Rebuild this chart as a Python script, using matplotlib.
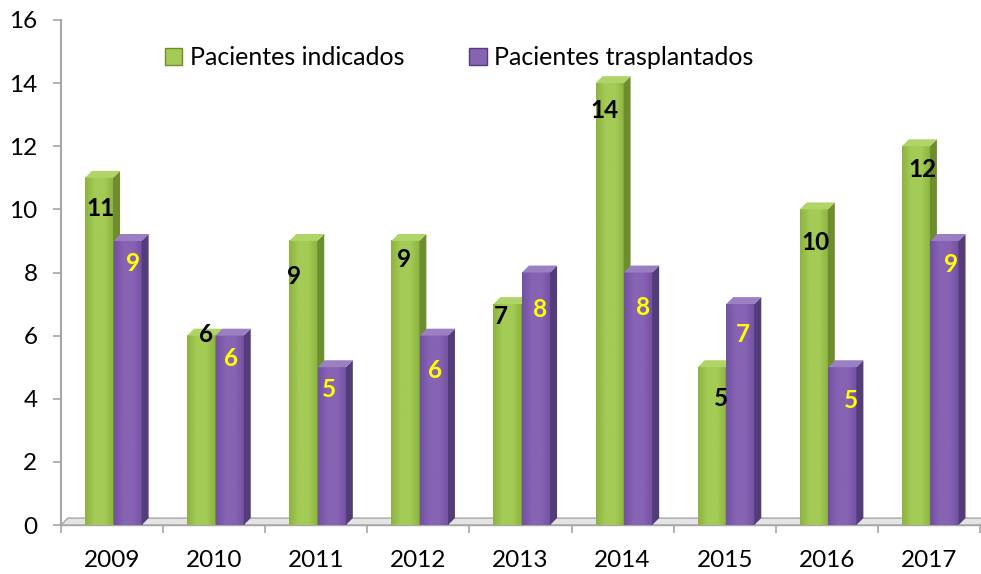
import numpy as np
import matplotlib.pyplot as plt
from matplotlib.patches import Polygon, Patch
from matplotlib.colors import LinearSegmentedColormap

plt.rcParams['font.family'] = ['Lato', 'DejaVu Sans']

# datos por año
years = ['2009', '2010', '2011', '2012', '2013', '2014', '2015', '2016', '2017']
indicados = [11, 6, 9, 9, 7, 14, 5, 10, 12]
trasplantados = [9, 6, 5, 6, 8, 8, 7, 5, 9]

# ajuste fino de la posición de cada etiqueta (desplazamiento en x, bajada en y)
ind_lbl_dx = [0.01, 0.045, -0.09, -0.01, -0.065, -0.05, 0.09, 0.02, 0.06]
ind_lbl_drop = [0.96, -0.02, 1.14, 0.6, 0.38, 0.88, 0.98, 1.06, 0.75]
tra_lbl_dx = [0.05, 0.015, -0.025, 0.013, 0.04, 0.05, 0.03, 0.08, 0.065]
tra_lbl_drop = [0.7, 0.74, 0.72, 1.12, 1.16, 1.12, 0.98, 1.07, 0.76]

# (frente claro, frente oscuro, lateral, tapa)
GREEN = ('#a3cb55', '#8db240', '#6d8d2e', '#b0d468')
PURPLE = ('#8763b4', '#7351a2', '#533d78', '#9a80c2')

W = 0.275          # ancho de la cara frontal
DX, DY = 0.068, 0.22   # profundidad del efecto 3D
FS = 17.5


def bar3d(ax, x0, h, colors):
    light, dark, side, top = colors
    cmap = LinearSegmentedColormap.from_list('g', [dark, light, light, dark])
    grad = np.linspace(0, 1, 64).reshape(1, -1)
    ax.imshow(grad, extent=[x0, x0 + W, 0, h], aspect='auto', cmap=cmap,
              zorder=3, interpolation='bilinear')
    ax.add_patch(Polygon([(x0 + W, 0), (x0 + W + DX, DY), (x0 + W + DX, h + DY), (x0 + W, h)],
                         closed=True, facecolor=side, edgecolor='none', zorder=3))
    ax.add_patch(Polygon([(x0, h), (x0 + W, h), (x0 + W + DX, h + DY), (x0 + DX, h + DY)],
                         closed=True, facecolor=top, edgecolor='none', zorder=3))


fig = plt.figure(figsize=(9.81, 5.74), dpi=100)
ax = fig.add_axes([61 / 981, 1 - 525 / 574, 919 / 981, 505 / 574])

# suelo del gráfico
floor = Polygon([(-0.5, 0), (8.5, 0), (8.5 + DX, DY), (-0.5 + DX, DY)], closed=True,
                facecolor='#e4e4e4', edgecolor='#a6a6a6', linewidth=1, zorder=2, clip_on=False)
ax.add_patch(floor)

x = np.arange(len(years))
for i in range(len(years)):
    g0 = x[i] - 0.265
    p0 = x[i] + 0.015
    bar3d(ax, g0, indicados[i], GREEN)
    bar3d(ax, p0, trasplantados[i], PURPLE)
    ax.text(g0 + W / 2 + ind_lbl_dx[i], indicados[i] - ind_lbl_drop[i], str(indicados[i]),
            ha='center', va='center', fontsize=FS, fontweight='bold', color='black', zorder=5)
    ax.text(p0 + W / 2 + tra_lbl_dx[i], trasplantados[i] - tra_lbl_drop[i], str(trasplantados[i]),
            ha='center', va='center', fontsize=FS, fontweight='bold', color='#ffff00', zorder=5)

ax.set_xlim(-0.5, 8.5)
ax.set_ylim(0, 16)

# ejes
for s in ['top', 'right']:
    ax.spines[s].set_visible(False)
ax.spines['left'].set_color('#a6a6a6')
ax.spines['bottom'].set_color('#a6a6a6')
ax.spines['left'].set_linewidth(1.5)
ax.spines['bottom'].set_linewidth(1.0)

ax.set_yticks(np.arange(0, 17, 2))
ax.tick_params(axis='y', length=6, width=1.2, color='#a6a6a6', labelsize=FS, pad=11)
ax.set_xticks(x)
ax.set_xticklabels(years)
ax.set_xticks(np.arange(-0.5, 8.6, 1), minor=True)
ax.tick_params(axis='x', which='major', length=0, labelsize=FS, pad=18)
ax.tick_params(axis='x', which='minor', length=6, width=1.2, color='#a6a6a6')

handles = [Patch(facecolor=GREEN[0], edgecolor=GREEN[2], label='Pacientes indicados'),
           Patch(facecolor=PURPLE[0], edgecolor=PURPLE[2], label='Pacientes trasplantados')]
fig.legend(handles=handles, loc='center', bbox_to_anchor=(0.468, 0.899), ncol=2,
           frameon=False, fontsize=FS + 0.5, handlelength=0.7, handleheight=0.7,
           handletextpad=0.3, columnspacing=2.6)

fig.savefig('out.png', dpi=100)
